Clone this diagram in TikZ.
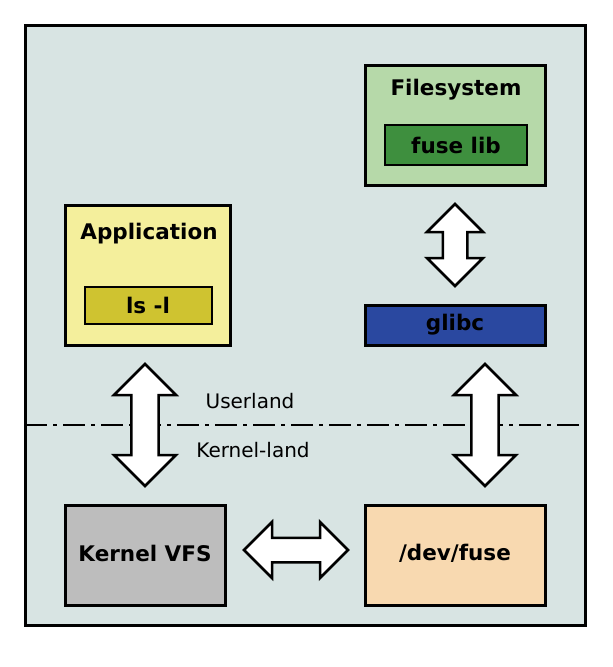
\documentclass[tikz,border=0pt]{standalone}
\usepackage{fontspec}
\setmainfont{DejaVu Sans}
\usetikzlibrary{shapes.arrows}
\definecolor{bgc}{HTML}{D8E4E3}
\definecolor{appc}{HTML}{F4EF9C}
\definecolor{lsc}{HTML}{CFC330}
\definecolor{fsc}{HTML}{B6D9A9}
\definecolor{flc}{HTML}{3E8F3E}
\definecolor{glc}{HTML}{2A48A0}
\definecolor{vfsc}{HTML}{BDBDBD}
\definecolor{devc}{HTML}{F8D9B0}
\begin{document}
\begin{tikzpicture}[x=1pt,y=-1pt,
  box/.style={draw=black,line width=3pt},
  big/.style={font=\fontsize{21.5}{25}\selectfont\bfseries},
  small/.style={font=\fontsize{20}{23}\selectfont},
  darr/.style={double arrow,draw=black,fill=white,line width=2.5pt,minimum width=60pt,double arrow head extend=15pt,inner sep=7pt,shape border uses incircle}]
\useasboundingbox (0,0) rectangle (613,667);
\draw[box,fill=bgc] (25,25) rectangle (585,625);
\draw[box,fill=appc] (65,205) rectangle (230,345);
\node[big] (app) at (149,234) {Application};
\draw[line width=2pt,fill=lsc] (85,287) rectangle (212,324);
\node[big] (ls) at (148,305) {ls -l};
\draw[box,fill=fsc] (365,65) rectangle (545,185);
\node[big] (fs) at (456,90) {Filesystem};
\draw[line width=2pt,fill=flc] (385,125) rectangle (527,165);
\node[big] (fl) at (456,145) {fuse lib};
\draw[box,fill=glc] (365,305) rectangle (545,345);
\node[big] (gl) at (455,325) {glibc};
\draw[box,fill=vfsc] (65,505) rectangle (225,605);
\node[big] (vfs) at (145,553) {Kernel VFS};
\draw[box,fill=devc] (365,505) rectangle (545,605);
\node[big] (dev) at (455,553) {/dev/fuse};
\coordinate (l1) at (25,425); \coordinate (l2) at (585,425);
\draw[line width=2.5pt,dash pattern=on 22pt off 6pt on 4pt off 6pt] (l1) -- (l2);
\node[small] (ul) at (250,401) {Userland};
\node[small] (kl) at (253,450) {Kernel-land};
\node[darr,rotate=90,minimum height=122pt,minimum width=62pt] (a1) at (145,425) {};
\node[darr,rotate=90,minimum height=122pt,minimum width=62pt] (a2) at (485,425) {};
\node[darr,rotate=90,minimum height=82pt,minimum width=56pt] (a3) at (455,245) {};
\node[darr,minimum height=104pt,minimum width=56pt] (a4) at (296,550) {};
\end{tikzpicture}
\end{document}
